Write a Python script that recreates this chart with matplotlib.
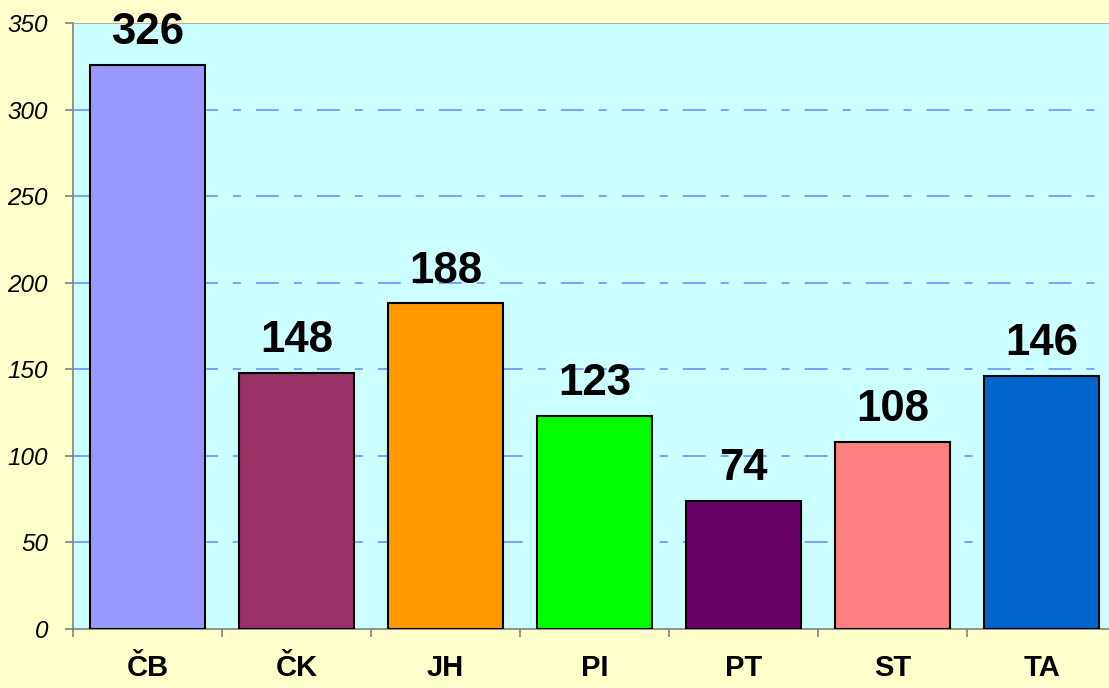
import matplotlib.pyplot as plt

plt.rcParams['font.family'] = ['Liberation Sans', 'DejaVu Sans']
plt.rcParams['lines.scale_dashes'] = False

categories = ['ČB', 'ČK', 'JH', 'PI', 'PT', 'ST', 'TA']
values = [326, 148, 188, 123, 74, 108, 146]
colors = ['#9999FF', '#993366', '#FF9900', '#00FF00', '#660066', '#FF8080', '#0066CC']
yticks = [0, 50, 100, 150, 200, 250, 300, 350]

fig = plt.figure(figsize=(11.09, 6.88), dpi=100, facecolor='#FFFFCC')
ax = fig.add_axes([73 / 1109, 59 / 688, 1043 / 1109, 606 / 688])
ax.set_facecolor('#CCFFFF')

x = list(range(len(categories)))
ax.bar(x, values, width=0.77, color=colors, edgecolor='black', linewidth=1.5, zorder=3)

for xi, v in zip(x, values):
    ax.annotate(str(v), (xi, v), xytext=(0, 15), textcoords='offset points',
                ha='center', va='baseline', fontsize=31.5, fontweight='bold')

ax.set_xlim(-0.5, len(categories) - 0.5)
ax.set_ylim(0, 350)
ax.set_yticks(yticks)
ax.set_yticklabels([str(t) for t in yticks], fontsize=17.5, style='italic')

# category boundaries as ticks, labels in the middle
ax.set_xticks([i - 0.5 for i in range(len(categories) + 1)])
ax.set_xticklabels([])
ax.set_xticks(x, minor=True)
ax.set_xticklabels(categories, minor=True, fontsize=21, fontweight='bold')
ax.tick_params(axis='x', which='minor', length=0, pad=18)
ax.tick_params(axis='x', which='major', length=6, color='#808080', width=1.2, direction='out')
ax.tick_params(axis='y', length=6, color='#808080', width=1.2, pad=12)

for y in yticks[1:-1]:
    ax.axhline(y, color='#6F8FFF', linewidth=1.2, linestyle=(0, (16.5, 10.8, 5.8, 10.8)), zorder=1)

ax.spines['right'].set_visible(False)
ax.spines['top'].set_color('#B0B0B0')
ax.spines['left'].set_color('#808080')
ax.spines['bottom'].set_color('#808080')
ax.spines['left'].set_linewidth(1.2)
ax.spines['bottom'].set_linewidth(1.2)

fig.savefig('out.png', dpi=100, facecolor=fig.get_facecolor())
